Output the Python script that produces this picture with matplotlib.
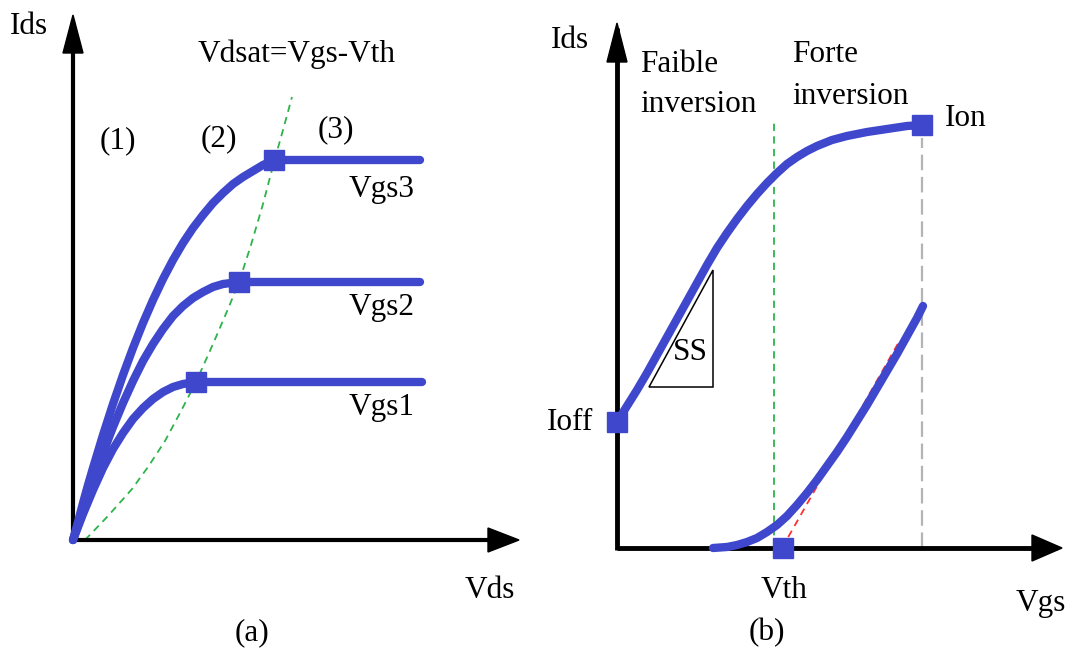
import numpy as np
import matplotlib
matplotlib.use('Agg')
import matplotlib.pyplot as plt
from matplotlib.patches import Polygon

# --- palette ---
BLUE = "#3F48CC"
GREEN = "#2DB34A"
RED = "#FF3030"
GREY = "#B4B4B4"
FONT = "Liberation Serif"
FS = 22.5

# --- (a) Ids(Vds) family ---
vgs3_x = [0.00, 0.05, 0.10, 0.15, 0.20, 0.30, 0.40, 0.50, 0.60, 0.70, 0.80, 0.90, 1.00,
          1.10, 1.20, 1.30, 1.40, 1.50, 1.60, 1.70, 1.80, 1.90, 2.01, 3.47]
vgs3_y = [0.00, 0.18, 0.37, 0.55, 0.72, 1.05, 1.36, 1.65, 1.92, 2.17, 2.40, 2.61, 2.80,
          2.97, 3.12, 3.25, 3.37, 3.47, 3.56, 3.63, 3.69, 3.75, 3.80, 3.80]
vgs2_x = [0.00, 0.05, 0.10, 0.20, 0.30, 0.40, 0.50, 0.60, 0.70, 0.80, 0.90, 1.00, 1.10,
          1.20, 1.30, 1.40, 1.50, 1.66, 3.47]
vgs2_y = [0.00, 0.15, 0.30, 0.59, 0.87, 1.13, 1.37, 1.59, 1.79, 1.96, 2.11, 2.24, 2.34,
          2.42, 2.48, 2.53, 2.56, 2.58, 2.58]
vgs1_x = [0.00, 0.05, 0.10, 0.20, 0.30, 0.40, 0.50, 0.60, 0.70, 0.80, 0.90, 1.00, 1.10,
          1.23, 3.49]
vgs1_y = [0.00, 0.13, 0.26, 0.50, 0.72, 0.91, 1.07, 1.21, 1.32, 1.41, 1.48, 1.53, 1.56,
          1.58, 1.58]
sat_x = [2.01, 1.66, 1.23]
sat_y = [3.80, 2.58, 1.58]
vdsat_x = [0.12, 0.35, 0.59, 0.75, 0.92, 1.07, 1.23, 1.40, 1.55, 1.66, 1.78, 1.90, 2.01, 2.10, 2.19]
vdsat_y = [0.00, 0.24, 0.51, 0.73, 0.99, 1.27, 1.58, 1.96, 2.31, 2.58, 2.95, 3.36, 3.78, 4.10, 4.43]

# --- (b) Ids(Vgs) ---
log_x = [0.00, 0.10, 0.20, 0.30, 0.40, 0.50, 0.60, 0.70, 0.80, 0.90, 1.00, 1.10, 1.20, 1.30,
         1.40, 1.50, 1.60, 1.70, 1.80, 1.90, 2.00, 2.15, 2.30, 2.50, 2.70, 2.90, 3.05]
log_y = [1.26, 1.42, 1.58, 1.75, 1.93, 2.11, 2.29, 2.47, 2.65, 2.83, 3.00, 3.15, 3.29, 3.42,
         3.54, 3.65, 3.75, 3.84, 3.91, 3.97, 4.02, 4.08, 4.12, 4.16, 4.19, 4.22, 4.23]
lin_x = [0.96, 1.10, 1.20, 1.30, 1.40, 1.50, 1.60, 1.70, 1.80, 1.90, 2.00, 2.10, 2.20, 2.30,
         2.40, 2.50, 2.60, 2.70, 2.80, 2.90, 3.00, 3.06]
lin_y = [0.00, 0.01, 0.03, 0.06, 0.10, 0.16, 0.23, 0.32, 0.43, 0.55, 0.68, 0.82, 0.96, 1.11,
         1.27, 1.43, 1.60, 1.77, 1.94, 2.12, 2.30, 2.42]
tangent_x = [1.65, 2.83]
tangent_y = [0.00, 2.08]
vth = 1.66
vth_line = 1.57
ion = (3.05, 4.23)
ioff = (0.00, 1.26)
ss_tri = [(0.32, 1.61), (0.96, 2.78), (0.96, 1.61)]


def axes_arrows(ax, x_end, y_end, x_head, y_head, lw):
    ax.plot([0, x_end - 0.05], [0, 0], color="black", lw=lw, solid_capstyle="butt", zorder=3)
    ax.plot([0, 0], [-0.02, y_end - 0.05], color="black", lw=lw, solid_capstyle="butt", zorder=3)
    hl, hw = x_head
    ax.add_patch(Polygon([(x_end - hl, hw), (x_end, 0), (x_end - hl, -hw)],
                         closed=True, color="black", zorder=3))
    hl, hw = y_head
    ax.add_patch(Polygon([(-hw, y_end - hl), (0, y_end), (hw, y_end - hl)],
                         closed=True, color="black", zorder=3))


def label(ax, x, y, s, ha="center", **kw):
    ax.text(x, y, s, ha=ha, va="center", fontsize=FS, family=FONT, **kw)


def curve(ax, xs, ys):
    ax.plot(xs, ys, color=BLUE, lw=6, solid_capstyle="round", solid_joinstyle="round", zorder=4)


fig = plt.figure(figsize=(10.69, 6.57), dpi=100)
ax_a = fig.add_axes([0, 0, 534 / 1069, 1])
ax_b = fig.add_axes([534 / 1069, 0, 535 / 1069, 1])
ax_a.set_xlim(-0.73, 4.61)
ax_a.set_ylim(-1.17, 5.40)
ax_b.set_xlim(-0.83, 4.52)
ax_b.set_ylim(-1.09, 5.48)
for ax in (ax_a, ax_b):
    ax.set_axis_off()

# ---- panel (a) ----
axes_arrows(ax_a, 4.46, 5.25, (0.31, 0.12), (0.38, 0.10), 3)
ax_a.plot(vdsat_x, vdsat_y, color=GREEN, lw=1.3, dashes=(4, 3), zorder=2)
for xs, ys in ((vgs3_x, vgs3_y), (vgs2_x, vgs2_y), (vgs1_x, vgs1_y)):
    curve(ax_a, xs, ys)
ax_a.plot(sat_x, sat_y, ls="none", marker="s", ms=15, color=BLUE, zorder=5)

label(ax_a, -0.44, 5.13, "Ids")
label(ax_a, 2.24, 4.86, "Vdsat=Vgs-Vth")
label(ax_a, 0.45, 3.99, "(1)")
label(ax_a, 1.46, 4.01, "(2)")
label(ax_a, 2.63, 4.10, "(3)")
label(ax_a, 3.09, 3.50, "Vgs3")
label(ax_a, 3.09, 2.32, "Vgs2")
label(ax_a, 3.09, 1.33, "Vgs1")
label(ax_a, 4.17, -0.50, "Vds")
label(ax_a, 1.79, -0.93, "(a)")

# ---- panel (b) ----
axes_arrows(ax_b, 4.45, 5.25, (0.30, 0.13), (0.39, 0.10), 3.5)
ax_b.plot([vth_line, vth_line], [0, 4.26], color=GREEN, lw=1.3, dashes=(4, 3), zorder=2)
ax_b.plot([ion[0], ion[0]], [0, 4.10], color=GREY, lw=1.6, dashes=(7, 3), zorder=2)
ax_b.plot(tangent_x, tangent_y, color=RED, lw=1.3, dashes=(4, 3), zorder=2)
ax_b.add_patch(Polygon(ss_tri, closed=True, fill=False, edgecolor="black", lw=1.1, zorder=3))
curve(ax_b, log_x, log_y)
curve(ax_b, lin_x, lin_y)
ax_b.plot([ioff[0], ion[0], vth], [ioff[1], ion[1], 0], ls="none", marker="s", ms=15,
          color=BLUE, zorder=5)

label(ax_b, -0.47, 5.08, "Ids")
label(ax_b, 0.23, 4.84, "Faible", ha="left")
label(ax_b, 0.23, 4.44, "inversion", ha="left")
label(ax_b, 1.75, 4.93, "Forte", ha="left")
label(ax_b, 1.75, 4.51, "inversion", ha="left")
label(ax_b, 3.49, 4.29, "Ion")
label(ax_b, -0.47, 1.25, "Ioff")
label(ax_b, 0.73, 1.96, "SS")
label(ax_b, 1.67, -0.43, "Vth")
label(ax_b, 4.24, -0.56, "Vgs")
label(ax_b, 1.50, -0.85, "(b)")

fig.savefig("out.png", dpi=100, facecolor="white")
